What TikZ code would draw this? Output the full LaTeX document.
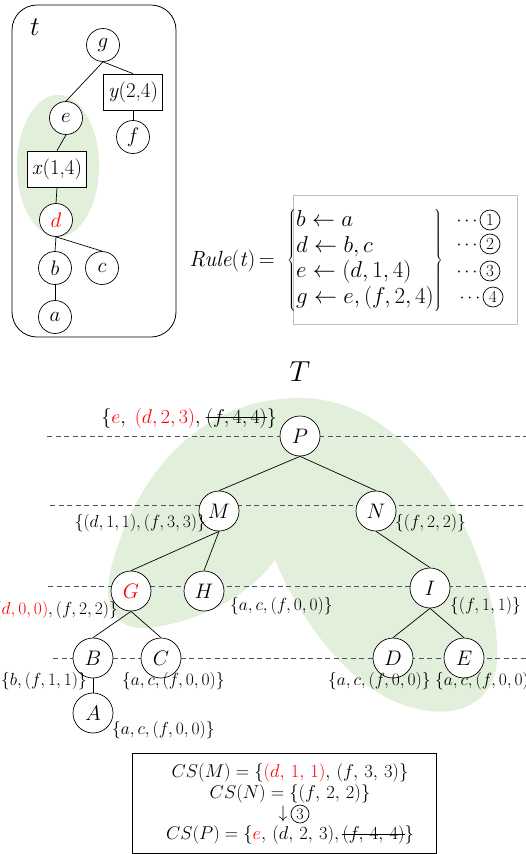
\RequirePackage{fix-cm}
\documentclass[tikz,border=0pt]{standalone}
\usepackage{fontspec}
\definecolor{blobgreen}{RGB}{226,239,218}
\definecolor{dashblue}{RGB}{68,84,106}
\definecolor{boxgray}{RGB}{191,191,191}
\definecolor{myred}{RGB}{255,0,0}
\newcommand{\fsz}[1]{\fontsize{#1}{#1}\selectfont}
\newcommand{\rd}[1]{{\color{myred}#1}}
\newsavebox\strkbox
\newcommand{\strk}[1]{\sbox\strkbox{#1}\rlap{\usebox\strkbox}\rule[0.25em]{\wd\strkbox}{0.7pt}}
\tikzset{
  snode/.style={circle, draw, fill=white, minimum size=33pt, inner sep=0pt, line width=0.7pt, font=\fsz{21}},
  sbox/.style={rectangle, draw, fill=white, minimum width=59pt, minimum height=36pt, inner sep=1pt, line width=0.7pt, font=\fsz{21}},
  bnode/.style={circle, draw, fill=white, minimum size=40pt, inner sep=0pt, line width=0.7pt, font=\fsz{21}},
  tlab/.style={inner sep=0pt, font=\fsz{17.5}},
  cslab/.style={inner sep=0pt, font=\fsz{18.5}},
  edge/.style={line width=0.7pt},
  guide/.style={draw=dashblue, dash pattern=on 5pt off 3.5pt, line width=0.8pt},
  dots/.style={inner sep=0pt, font=\fsz{18}},
  cnum/.style={circle, draw, line width=0.7pt, minimum size=20pt, inner sep=0pt, font=\fsz{17}}
}
\begin{document}
\begin{tikzpicture}[x=1pt,y=-1pt]
\useasboundingbox (0,0) rectangle (526,854);
\begin{scope}
\clip (0,0) rectangle (526,854);
% ---------- small tree t ----------
\draw[line width=0.8pt, rounded corners=25pt] (12,5) rectangle (176,337);
\node[font=\fsz{27}, inner sep=0pt] (tlabel) at (35,27) {$t$};
\fill[blobgreen] (58,166) ellipse [x radius=41, y radius=71];
\node[snode] (g) at (103,45) {$g$};
\node[sbox] (y) at (133,92) {\textit{y}(2,4)};
\node[snode] (e) at (66,118) {$e$};
\node[snode] (f) at (133,137) {$f$};
\node[sbox] (x) at (57,169) {\textit{x}(1,4)};
\node[snode] (d) at (56,220) {$\rd{d}$};
\node[snode] (b) at (55,268) {$b$};
\node[snode] (c) at (102,268) {$c$};
\node[snode] (a) at (55,317) {$a$};
\draw[edge] (g.south) -- (e.north);
\draw[edge] (g.south) -- (y.north);
\draw[edge] (y.south) -- (f.north);
\draw[edge] (e.south) -- (x.north);
\draw[edge] (x.south) -- (d.north);
\draw[edge] (d.south) -- (b.north);
\draw[edge] (d.south) -- (c.north);
\draw[edge] (b.south) -- (a.north);
% ---------- Rule(t) ----------
\draw[draw=boxgray, line width=0.8pt] (293,195) rectangle (517,324);
\node[inner sep=0pt, anchor=east, font=\fsz{22}] (rulet) at (275,261) {\textit{Rule}(\textit{t})\,=};
\node[inner sep=0pt, font=\fontsize{23}{25.7}\selectfont] (rules) at (365,260)
  {$\left\{\begin{array}{@{}l@{}} b\leftarrow a\\ d\leftarrow b,c\\ e\leftarrow (d,1,4)\\ g\leftarrow e,(f,2,4)\end{array}\right\}$};
\node[dots] (d1) at (467,221) {$\cdots$};
\node[dots] (d2) at (467,245) {$\cdots$};
\node[dots] (d3) at (467,272) {$\cdots$};
\node[dots] (d4) at (470,298) {$\cdots$};
\node[cnum] (c1) at (490,220) {1};
\node[cnum] (c2) at (490,244) {2};
\node[cnum] (c3) at (490,271) {3};
\node[cnum] (c4) at (493,297) {4};
% ---------- big tree T ----------
\node[font=\fsz{29}, inner sep=0pt] (Tlabel) at (300,372) {$T$};
\fill[blobgreen] (300,398) .. controls (195,398) and (140,480) .. (118,545)
  .. controls (100,595) and (105,630) .. (148,628)
  .. controls (200,622) and (250,595) .. (275,560)
  .. controls (300,620) and (350,690) .. (410,707)
  .. controls (460,722) and (500,700) .. (497,650)
  .. controls (497,560) and (420,398) .. (300,398) -- cycle;
\draw[guide] (47,436) -- (526,436);
\draw[guide] (50,505) -- (526,505);
\draw[guide] (48,586) -- (526,586);
\draw[guide] (53,658) -- (526,658);
\node[bnode] (P) at (300,436) {$P$};
\node[bnode] (M) at (219,511) {$M$};
\node[bnode] (N) at (376,511) {$N$};
\node[bnode] (G) at (131,591) {$\rd{G}$};
\node[bnode] (H) at (204,591) {$H$};
\node[bnode] (I) at (430,588) {$I$};
\node[bnode] (B) at (93,658) {$B$};
\node[bnode] (C) at (161,658) {$C$};
\node[bnode] (D) at (393,658) {$D$};
\node[bnode] (E) at (464,658) {$E$};
\node[bnode] (A) at (93,713) {$A$};
\draw[edge] (P.south) -- (M.north);
\draw[edge] (P.south) -- (N.north);
\draw[edge] (M.south) -- (G.north);
\draw[edge] (M.south) -- (H.north);
\draw[edge] (N.south) -- (I.north);
\draw[edge] (G.south) -- (B.north);
\draw[edge] (G.south) -- (C.north);
\draw[edge] (I.south) -- (D.north);
\draw[edge] (I.south) -- (E.north);
\draw[edge] (B.south) -- (A.north);
% labels
\node[tlab, font=\fsz{20}, anchor=east] (lP) at (277,418) {$\{\rd{e},\;\rd{(d,2,3)},\;$\strk{$(f,4,4)$}$\}$};
\node[tlab, anchor=east] (lM) at (206,523) {$\{(d,1,1),(f,3,3)\}$};
\node[tlab, anchor=west] (lN) at (395,523) {$\{(f,2,2)\}$};
\node[tlab, anchor=east] (lG) at (118,610) {$\{\rd{(d,0,0)},(f,2,2)\}$};
\node[tlab, anchor=west] (lH) at (230,606) {$\{a,c,(f,0,0)\}$};
\node[tlab, anchor=west] (lI) at (450,606) {$\{(f,1,1)\}$};
\node[tlab, anchor=west] (lB) at (1,681) {$\{b,(f,1,1)\}$};
\node[tlab, anchor=west] (lC) at (122,681) {$\{a,c,(f,0,0)\}$};
\node[tlab, anchor=west] (lD) at (328,681) {$\{a,c,(f,0,0)\}$};
\node[tlab, anchor=west] (lE) at (435,681) {$\{a,c,(f,0,0)\}$};
\node[tlab, anchor=west] (lA) at (112,730) {$\{a,c,(f,0,0)\}$};
% ---------- bottom box ----------
\draw[line width=0.8pt] (132,753) rectangle (436,853);
\node[cslab] (cs1) at (290,773) {$CS(M)=\{\rd{(d,\,1,\,1)},\,(f,\,3,\,3)\}$};
\node[cslab] (cs2) at (290,794) {$CS(N)=\{(f,\,2,\,2)\}$};
\node[cslab, font=\fsz{18}] (arr) at (283,814) {$\downarrow$};
\node[cnum, minimum size=18pt, font=\fsz{16}] (c5) at (300,814) {3};
\node[cslab] (cs4) at (290,835) {$CS(P)=\{\rd{e},\,(d,\,2,\,3),\,$\strk{$(f,\,4,\,4)$}$\}$};
\end{scope}
\end{tikzpicture}
\end{document}
